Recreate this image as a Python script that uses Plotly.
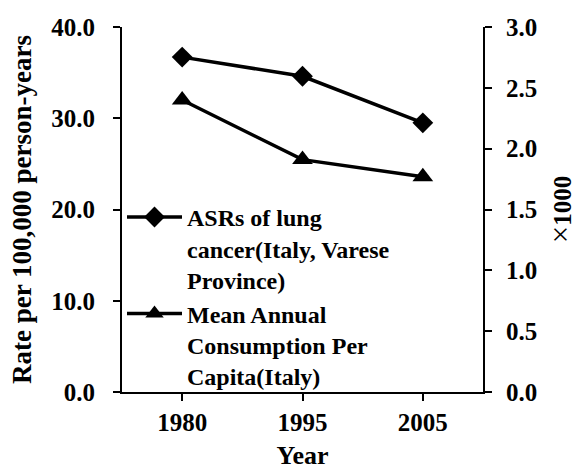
import plotly.graph_objects as go

# Data
years = ["1980", "1995", "2005"]
asr_lung_cancer = [36.7, 34.6, 29.5]          # rate per 100,000 person-years
consumption_per_capita = [2.40, 1.91, 1.77]   # x1000
left_ticks = [0, 10, 20, 30, 40]
right_ticks = [0, 0.5, 1.0, 1.5, 2.0, 2.5, 3.0]
left_range = [0, 40]
right_range = [0, 3]

W, H = 578, 470
FONT = "Liberation Serif"
BLACK = "black"

# plot frame (pixels from the left edge of the page)
FRAME_LEFT, FRAME_RIGHT = 122, 483
# tick labels stand well clear of the tick marks, so they are carried by
# free-positioned axes; the frame lines and ticks are separate overlay axes
LEFT_LABEL_POS, RIGHT_LABEL_POS = 95, 505


def bold(size):
    return dict(family=FONT, size=size, color=BLACK, weight="bold")


fig = go.Figure()

fig.add_trace(go.Scatter(
    x=years, y=asr_lung_cancer,
    yaxis="y",
    mode="lines+markers",
    name="ASRs of lung<br>cancer(Italy, Varese<br>Province)",
    line=dict(color=BLACK, width=3.5),
    marker=dict(symbol="diamond", size=16, color=BLACK),
))

fig.add_trace(go.Scatter(
    x=years, y=consumption_per_capita,
    yaxis="y2",
    mode="lines+markers",
    name="Mean Annual<br>Consumption Per<br>Capita(Italy)",
    line=dict(color=BLACK, width=3.5),
    marker=dict(symbol="triangle-up", size=18, color=BLACK),
))

# the same series bound to the frame axes (nothing drawn) so those axes render
for series, axis in ((asr_lung_cancer, "y3"), (consumption_per_capita, "y4")):
    fig.add_trace(go.Scatter(
        x=years, y=series, yaxis=axis, mode="none",
        showlegend=False, hoverinfo="skip",
    ))

frame_axis = dict(
    showline=True, linecolor=BLACK, linewidth=2,
    ticks="outside", tickcolor=BLACK, tickwidth=2, ticklen=7,
    showgrid=False, zeroline=False, automargin=False,
    tickfont=bold(25),
)
label_axis = dict(
    showline=False, ticks="", showgrid=False, zeroline=False,
    automargin=False, tickfont=bold(25), tickformat=".1f",
)

fig.update_layout(
    width=W, height=H,
    margin=dict(l=0, r=0, t=27, b=78),
    paper_bgcolor="white", plot_bgcolor="rgba(0,0,0,0)",
    font=bold(24),
    showlegend=True,
    legend=dict(
        x=FRAME_LEFT / W, y=0.54, xanchor="left", yanchor="top",
        valign="top", bgcolor="rgba(0,0,0,0)",
        font=bold(24),
        itemwidth=55, tracegroupgap=0,
    ),
    xaxis=dict(
        type="category", range=[-0.5, 2.5],
        domain=[FRAME_LEFT / W, FRAME_RIGHT / W],
        title=dict(text="Year", standoff=16, font=bold(26)),
        **frame_axis,
    ),
    # tick labels + titles
    yaxis=dict(
        range=left_range, tickvals=left_ticks,
        anchor="free", side="left", position=LEFT_LABEL_POS / W,
        title=dict(text="Rate per 100,000 person-years", standoff=10,
                   font=bold(27)),
        **label_axis,
    ),
    yaxis2=dict(
        range=right_range, tickvals=right_ticks,
        overlaying="y", anchor="free", side="right",
        position=RIGHT_LABEL_POS / W,
        title=dict(
            text="<span style='font-weight:normal;font-size:31px'>×</span>1000",
            standoff=20, font=bold(25)),
        **label_axis,
    ),
    # frame lines + tick marks
    yaxis3=dict(
        range=left_range, tickvals=left_ticks, showticklabels=False,
        overlaying="y", anchor="x", side="left",
        **frame_axis,
    ),
    yaxis4=dict(
        range=right_range, tickvals=right_ticks, showticklabels=False,
        overlaying="y", anchor="x", side="right",
        **frame_axis,
    ),
)

fig.write_html("out.html")
